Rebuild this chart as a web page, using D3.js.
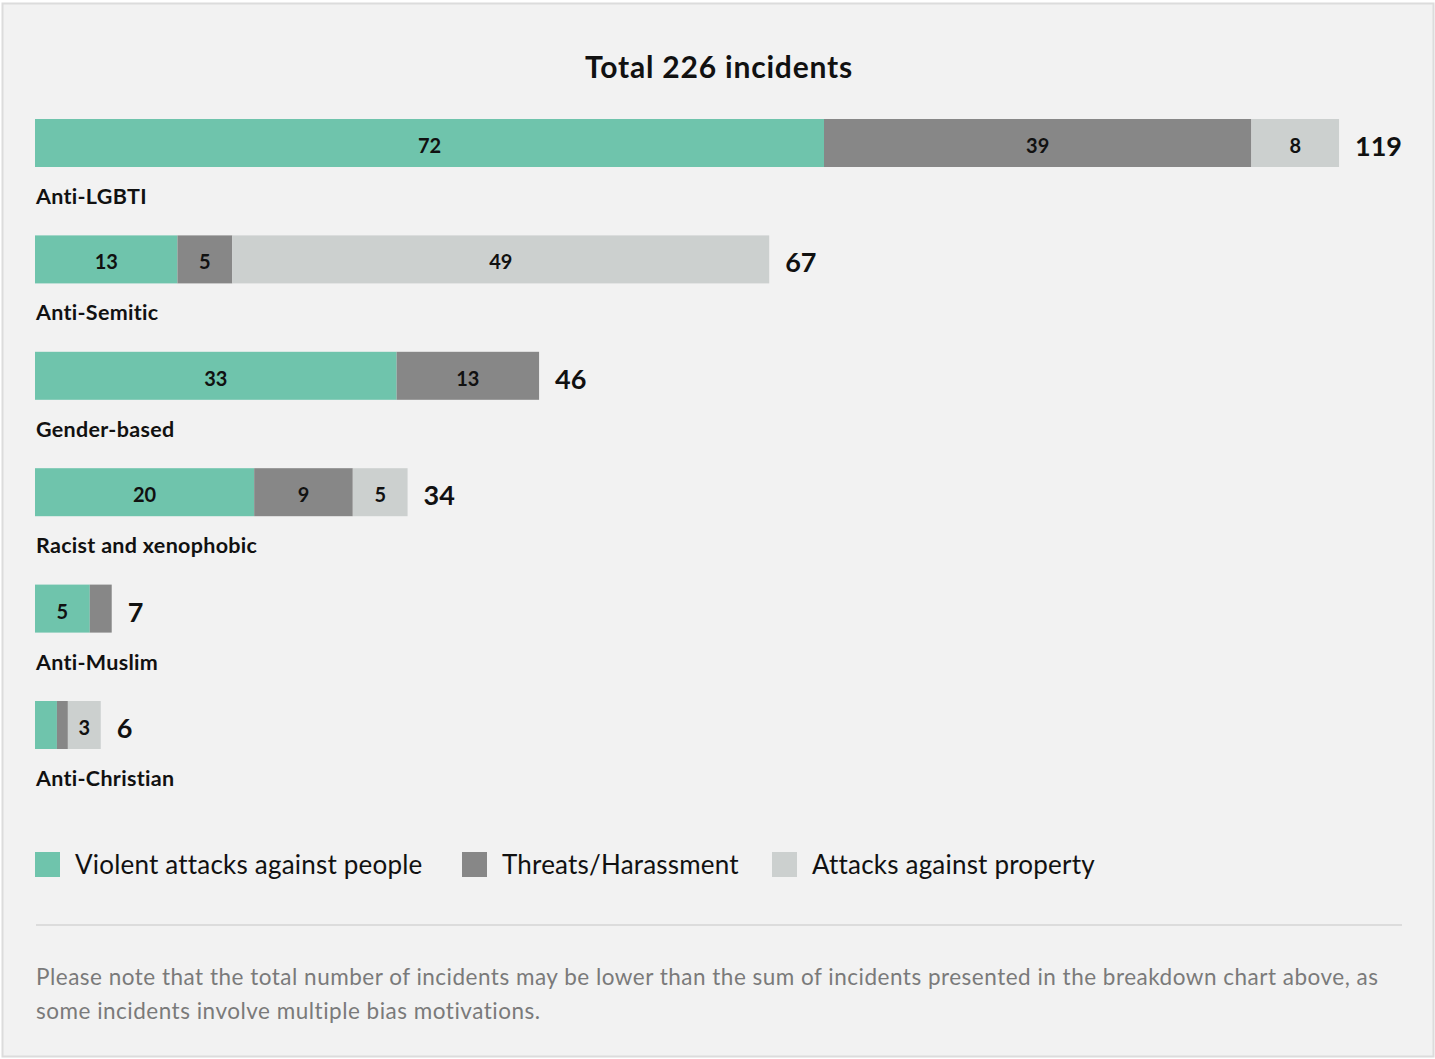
<!DOCTYPE html>
<html>
<head>
<meta charset="utf-8">
<script src="https://cdn.jsdelivr.net/npm/d3@7"></script>
<style>
  body { margin: 0; background: #fff; }
  svg text { font-family: "Lato", "Noto Sans", sans-serif; }
</style>
</head>
<body>
<script>
// 数据
const categories = ["Anti-LGBTI", "Anti-Semitic", "Gender-based", "Racist and xenophobic", "Anti-Muslim", "Anti-Christian"];
const violent = [72, 13, 33, 20, 5, 2];
const threats = [39, 5, 13, 9, 2, 1];
const property = [8, 49, 0, 5, 0, 3];
const totals = [119, 67, 46, 34, 7, 6];
const seriesNames = ["Violent attacks against people", "Threats/Harassment", "Attacks against property"];
const title = "Total 226 incidents";
const noteLines = [
    "Please note that the total number of incidents may be lower than the sum of incidents presented in the breakdown chart above, as",
    "some incidents involve multiple bias motivations."
];

const width = 1435, height = 1059;
const colors = ["#6fc4ac", "#878787", "#ccd0cf"];

const svg = d3.select("body").append("svg")
    .attr("width", width)
    .attr("height", height);

// 外框
svg.append("rect")
    .attr("x", 2.5).attr("y", 3.5)
    .attr("width", 1431).attr("height", 1053)
    .attr("fill", "#f2f2f2")
    .attr("stroke", "#dcdcdc")
    .attr("stroke-width", 2);

// 标题
svg.append("text")
    .attr("x", 719).attr("y", 78)
    .attr("text-anchor", "middle")
    .attr("font-size", 30).attr("font-weight", "bold")
    .attr("letter-spacing", 0.8)
    .attr("fill", "#111")
    .text(title);

const x = d3.scaleLinear().domain([0, 72]).range([35, 824]);
const y = d3.scaleBand().domain(categories).range([119, 119 + 116.4 * 6]).paddingInner(0).paddingOuter(0);
const barH = 48;

const rows = categories.map((c, i) => ({ name: c, values: [violent[i], threats[i], property[i]], total: totals[i] }));

const row = svg.append("g").selectAll("g").data(rows).join("g")
    .attr("transform", d => `translate(0,${y(d.name)})`);

// 堆叠条
row.each(function (d) {
    let acc = 0;
    const segs = d.values.map((v, k) => {
        const s = { k: k, v: v, x0: acc, x1: acc + v };
        acc += v;
        return s;
    }).filter(s => s.v > 0);
    const g = d3.select(this);
    g.selectAll("rect").data(segs).join("rect")
        .attr("x", s => x(s.x0))
        .attr("width", s => x(s.x1) - x(s.x0))
        .attr("y", 0)
        .attr("height", barH)
        .attr("fill", s => colors[s.k]);
    g.selectAll("text.seg").data(segs.filter(s => s.v >= 3)).join("text")
        .attr("class", "seg")
        .attr("x", s => (x(s.x0) + x(s.x1)) / 2)
        .attr("y", 34)
        .attr("text-anchor", "middle")
        .attr("font-size", 20).attr("font-weight", "bold")
        .attr("fill", "#111")
        .text(s => s.v);
    g.append("text")
        .attr("x", x(acc) + 16)
        .attr("y", 37)
        .attr("font-size", 27).attr("font-weight", "bold")
        .attr("fill", "#111")
        .text(d.total);
    g.append("text")
        .attr("x", 36)
        .attr("y", 85)
        .attr("font-size", 21.5).attr("font-weight", "bold")
        .attr("letter-spacing", 0.3)
        .attr("fill", "#111")
        .text(d.name);
});

// 图例
const legendX = [35, 462, 772];
const legend = svg.append("g").selectAll("g").data(seriesNames).join("g")
    .attr("transform", (d, i) => `translate(${legendX[i]},852)`);
legend.append("rect").attr("width", 25).attr("height", 25).attr("fill", (d, i) => colors[i]);
legend.append("text").attr("x", 40).attr("y", 22)
    .attr("font-size", 26).attr("letter-spacing", 0.2).attr("fill", "#111")
    .text(d => d);

// 分隔线
svg.append("line")
    .attr("x1", 36).attr("x2", 1402)
    .attr("y1", 925).attr("y2", 925)
    .attr("stroke", "#dcdcdc").attr("stroke-width", 2);

// 注释
svg.append("g").selectAll("text").data(noteLines).join("text")
    .attr("x", 36)
    .attr("y", (d, i) => 985 + i * 34)
    .attr("font-size", 22.5).attr("letter-spacing", 0.5).attr("fill", "#7a7a7a")
    .text(d => d);
</script>
</body>
</html>
